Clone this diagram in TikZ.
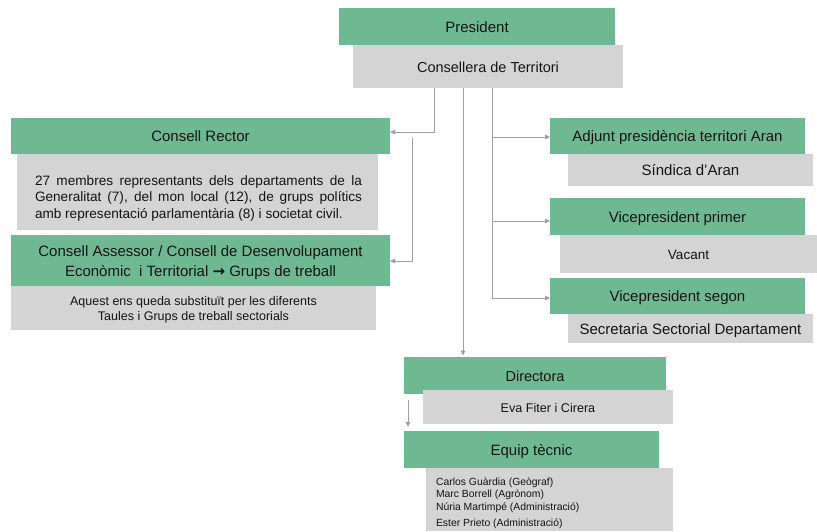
\documentclass[tikz,border=0pt]{standalone}
\usepackage{fontspec}
\setmainfont{Liberation Sans}
\newfontfamily\symfont{DejaVu Sans}
\usetikzlibrary{arrows.meta}
\definecolor{boxgreen}{RGB}{110,185,146}
\definecolor{boxgray}{RGB}{212,212,212}
\definecolor{linegray}{RGB}{160,160,160}
\definecolor{txt}{RGB}{20,20,20}
\tikzset{
  base/.style={inner sep=0pt, outer sep=0pt, text=txt, align=center},
  greenbox/.style={base, fill=boxgreen, font=\fontsize{15}{18}\selectfont},
  graybox/.style={base, fill=boxgray, font=\fontsize{15}{18}\selectfont},
  oneline/.style={text height=13.5pt, text depth=2pt},
  plaintext/.style={inner sep=0pt, outer sep=0pt, text=txt},
  line/.style={draw=linegray, line width=0.9pt},
  conn/.style={line, -{Triangle[length=5pt,width=4.5pt]}},
}
\begin{document}
\begin{tikzpicture}[x=1pt,y=-1pt]
\useasboundingbox (0,0) rectangle (817,531);
% top
\node[greenbox, oneline, minimum width=276, minimum height=37] (pres) at (477,26.5) {President};
\node[graybox, minimum width=270, minimum height=43, font=\fontsize{14.5}{17}\selectfont, text height=13.4pt, text depth=2pt] (cons) at (488,66.5) {Consellera de Territori};
% left
\node[greenbox, oneline, minimum width=379, minimum height=36] (rector) at (200.5,136) {Consell Rector};
\node[graybox, minimum width=361, minimum height=76] (rectorg) at (197.5,192) {};
\node[plaintext, text width=327, align=justify, font=\fontsize{13.6}{16.5}\selectfont] (rectortxt) at (198.5,198)
 {27 membres representants dels departaments de la\linebreak Generalitat (7), del mon local (12), de grups polítics\linebreak amb representació parlamentària (8) i societat civil.};
\node[greenbox, minimum width=379, minimum height=51] (assessor) at (200.5,260.5) {};
\node[plaintext, align=center, font=\fontsize{15}{19.5}\selectfont] (assessortxt) at (200.5,262.5)
 {Consell Assessor / Consell de Desenvolupament\\Econòmic\ \ i Territorial {\symfont\bfseries\fontsize{15}{19}\selectfont →} Grups de treball};
\node[graybox, minimum width=365, minimum height=44] (assessorg) at (193.5,308) {};
\node[plaintext, align=center, font=\fontsize{12.5}{15.5}\selectfont] (assessorgtxt) at (193.5,310)
 {Aquest ens queda substituït per les diferents\\Taules i Grups de treball sectorials};
% right
\node[greenbox, oneline, minimum width=255, minimum height=36] (adj) at (677.5,136) {Adjunt presidència territori Aran};
\node[graybox, oneline, minimum width=245, minimum height=32] (sind) at (690.5,170) {Síndica d’Aran};
\node[greenbox, oneline, minimum width=255, minimum height=37] (vp1) at (677.5,216.5) {Vicepresident primer};
\node[graybox, minimum width=257, minimum height=38, font=\fontsize{13.5}{16}\selectfont, text height=12.7pt, text depth=2pt] (vac) at (688.5,254) {Vacant};
\node[greenbox, oneline, minimum width=255, minimum height=36] (vp2) at (677.5,296) {Vicepresident segon};
\node[graybox, oneline, minimum width=245, minimum height=29] (sec) at (690.5,328.5) {Secretaria Sectorial Departament};
% bottom
\node[greenbox, minimum width=262, minimum height=37, font=\fontsize{14.5}{17}\selectfont, text height=13.4pt, text depth=2pt] (dir) at (535,375.5) {Directora};
\node[graybox, minimum width=250, minimum height=34, font=\fontsize{12.6}{15}\selectfont, text height=12pt, text depth=2pt] (eva) at (548,407) {Eva Fiter i Cirera};
\node[greenbox, oneline, minimum width=255, minimum height=37] (equip) at (531.5,449.5) {Equip tècnic};
\node[graybox, minimum width=247, minimum height=63] (team) at (549.5,499.5) {};
\node[plaintext, anchor=north west, align=left, font=\fontsize{10.4}{12.3}\selectfont] (teamtxt) at (436,478)
 {Carlos Guàrdia (Geògraf)\\Marc Borrell (Agrònom)\\Núria Martimpé (Administració)\\[3.5pt]Ester Prieto (Administració)};
% connectors
\coordinate (b1) at (434,132);
\draw[conn] (cons.south -| b1) -- (b1) -- (b1 -| rector.east);
\coordinate (b2) at (412,138);
\coordinate (b2e) at (412,261);
\draw[conn] (b2) -- (b2e) -- (b2e -| assessor.east);
\coordinate (m1) at (463,88);
\draw[conn, shorten >=1.5pt] (cons.south -| m1) -- (dir.north -| m1);
\coordinate (r1) at (492,137);
\coordinate (r2) at (492,221);
\coordinate (r3) at (492,298);
\draw[line] (cons.south -| r1) -- (r3);
\draw[conn] (r1) -- (r1 -| adj.west);
\draw[conn] (r2) -- (r2 -| vp1.west);
\draw[conn] (r3) -- (r3 -| vp2.west);
\coordinate (d1) at (408,400);
\draw[conn, shorten >=4pt] (d1) -- (equip.north -| d1);
\end{tikzpicture}
\end{document}
